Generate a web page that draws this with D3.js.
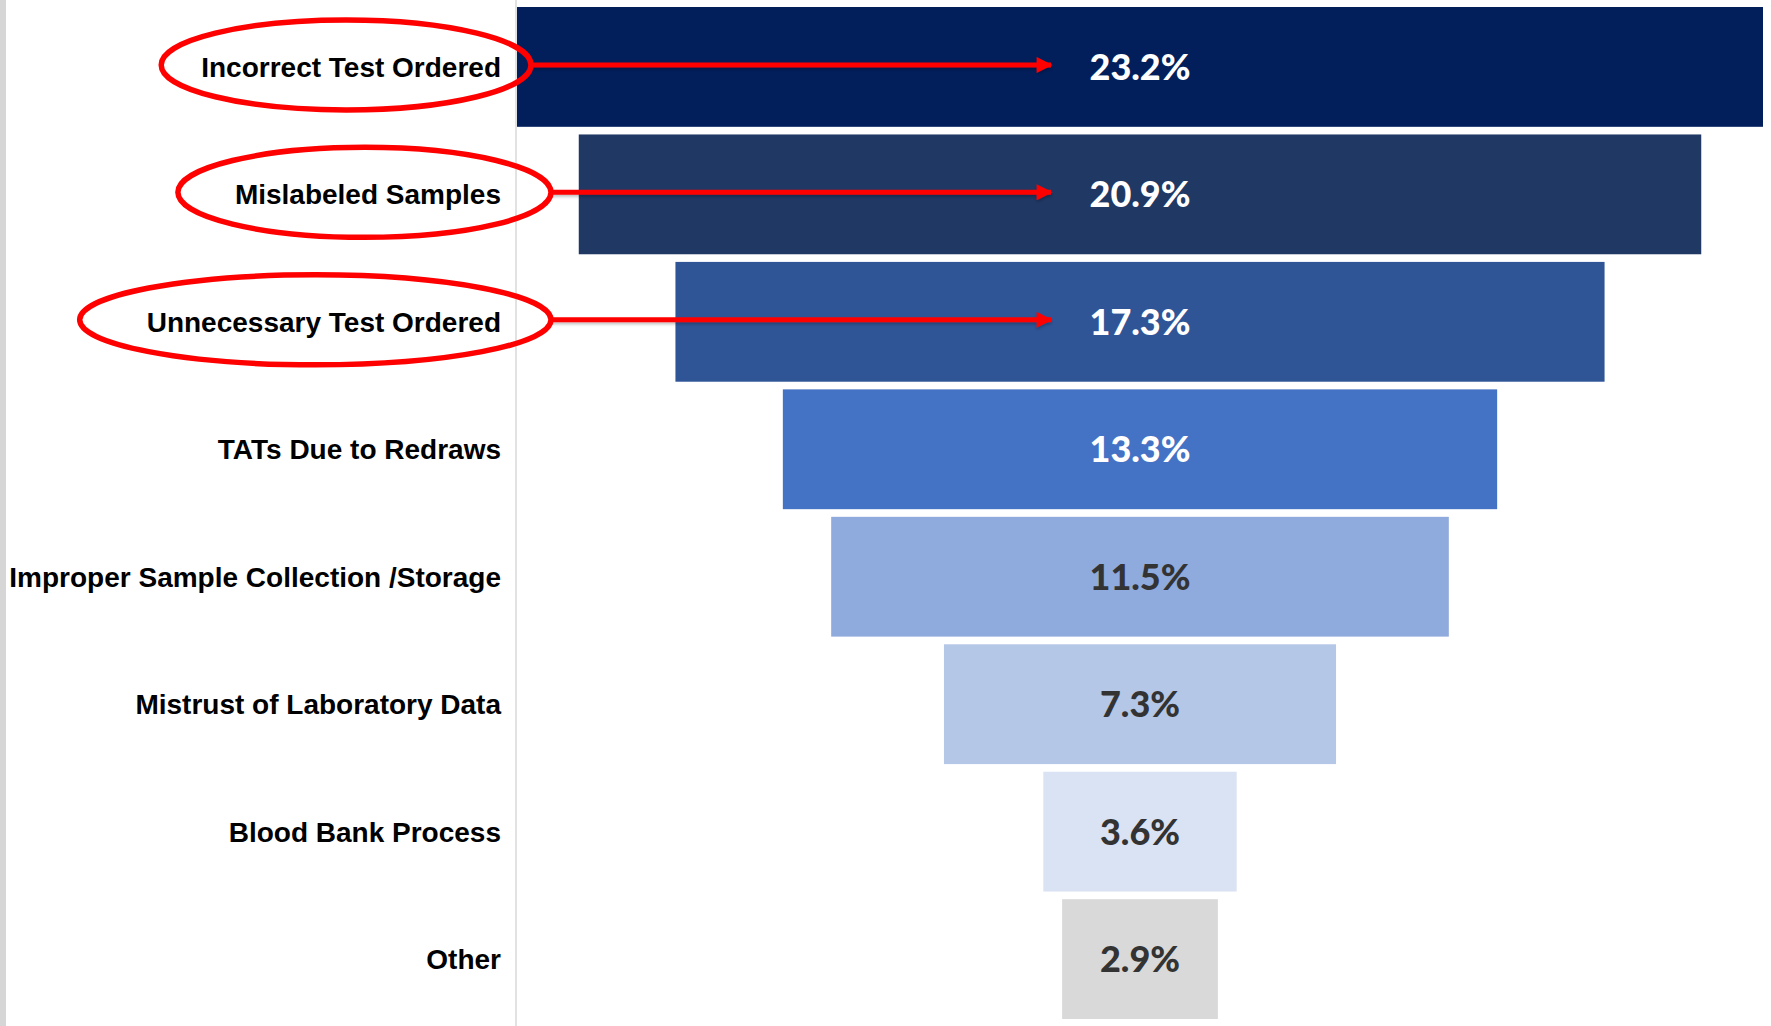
<!DOCTYPE html>
<html>
<head>
<meta charset="utf-8">
<script src="https://cdn.jsdelivr.net/npm/d3@7/dist/d3.min.js"></script>
<style>
  html, body { margin: 0; padding: 0; background: #ffffff; }
  svg { display: block; }
</style>
</head>
<body>
<svg id="chart" width="1771" height="1026"></svg>
<script>
// ---- data ----
const categories = [
  "Incorrect Test Ordered",
  "Mislabeled Samples",
  "Unnecessary Test Ordered",
  "TATs Due to Redraws",
  "Improper Sample Collection /Storage",
  "Mistrust of Laboratory Data",
  "Blood Bank Process",
  "Other"
];
const values = [23.2, 20.9, 17.3, 13.3, 11.5, 7.3, 3.6, 2.9];
const valueLabels = ["23.2%", "20.9%", "17.3%", "13.3%", "11.5%", "7.3%", "3.6%", "2.9%"];
const highlighted = ["Incorrect Test Ordered", "Mislabeled Samples", "Unnecessary Test Ordered"];

// ---- style ----
const barColors = ["#021f5c", "#203864", "#2f5597", "#4472c4", "#8faadc", "#b4c7e7", "#dae3f3", "#d9d9d9"];
const valueColors = ["#ffffff", "#ffffff", "#ffffff", "#ffffff", "#333333", "#333333", "#333333", "#333333"];
const ellipsePad = [[40, 30], [57, 50], [67, 50]];

const W = 1771, H = 1026;
const svg = d3.select("#chart");
svg.append("rect").attr("width", W).attr("height", H).attr("fill", "#ffffff");

// left gray border strip
svg.append("rect").attr("x", 0).attr("y", 0).attr("width", 6).attr("height", H).attr("fill", "#d6d6d6");

const centerX = 1140;
const axisX = 516;
const labelRightX = 501;

const y = d3.scaleBand().domain(categories).range([7, 1019]).paddingInner(0.06).paddingOuter(0);
const w = d3.scaleLinear().domain([0, d3.max(values)]).range([0, 1246]);

// vertical axis line
svg.append("line").attr("x1", axisX).attr("x2", axisX).attr("y1", 0).attr("y2", H)
  .attr("stroke", "#e2e2e2").attr("stroke-width", 2);

const data = categories.map((c, i) => ({ c, v: values[i], lab: valueLabels[i], i }));

// bars
svg.append("g").selectAll("rect").data(data).join("rect")
  .attr("x", d => centerX - w(d.v) / 2)
  .attr("y", d => y(d.c))
  .attr("width", d => w(d.v))
  .attr("height", y.bandwidth())
  .attr("fill", d => barColors[d.i]);

// value labels
svg.append("g").selectAll("text").data(data).join("text")
  .attr("x", centerX)
  .attr("y", d => y(d.c) + y.bandwidth() / 2)
  .attr("dy", "0.36em")
  .attr("text-anchor", "middle")
  .attr("font-family", "Lato, 'Open Sans', sans-serif")
  .attr("font-weight", 900)
  .attr("font-size", 36)
  .attr("fill", d => valueColors[d.i])
  .text(d => d.lab);

// category labels
const catLabels = svg.append("g").selectAll("text").data(data).join("text")
  .attr("x", labelRightX)
  .attr("y", d => y(d.c) + y.bandwidth() / 2)
  .attr("dy", "0.36em")
  .attr("text-anchor", "end")
  .attr("font-family", "'Liberation Sans', Arial, sans-serif")
  .attr("font-weight", 700)
  .attr("font-size", 28)
  .attr("fill", "#000000")
  .text(d => d.c);

// highlights: ellipses + arrows
const defs = svg.append("defs");
defs.append("marker")
  .attr("id", "arrowhead")
  .attr("viewBox", "0 0 10 10")
  .attr("refX", 9).attr("refY", 5)
  .attr("markerUnits", "userSpaceOnUse")
  .attr("markerWidth", 17).attr("markerHeight", 16)
  .attr("orient", "auto")
  .append("path").attr("d", "M0,0 L10,5 L0,10 Z").attr("fill", "#ff0000");
const shadow = defs.append("filter").attr("id", "shadow")
  .attr("filterUnits", "userSpaceOnUse")
  .attr("x", 0).attr("y", 0).attr("width", W).attr("height", H);
shadow.append("feDropShadow").attr("dx", 0).attr("dy", 2).attr("stdDeviation", 1.5)
  .attr("flood-color", "#000").attr("flood-opacity", 0.25);

const arrowTipX = 1053;
const hl = svg.append("g");
catLabels.each(function (d) {
  const k = highlighted.indexOf(d.c);
  if (k < 0) return;
  const bb = this.getBBox();
  const left = bb.x - ellipsePad[k][0];
  const right = bb.x + bb.width + ellipsePad[k][1];
  const cy = y(d.c) + y.bandwidth() / 2 - 2;
  hl.append("line")
    .attr("x1", right).attr("x2", arrowTipX - 2)
    .attr("y1", cy).attr("y2", cy)
    .attr("stroke", "#ff0000").attr("stroke-width", 5)
    .attr("marker-end", "url(#arrowhead)")
    .attr("filter", "url(#shadow)");
  hl.append("ellipse")
    .attr("cx", (left + right) / 2).attr("cy", cy)
    .attr("rx", (right - left) / 2).attr("ry", 45)
    .attr("fill", "none")
    .attr("stroke", "#ff0000").attr("stroke-width", 5.5);
});
</script>
</body>
</html>
